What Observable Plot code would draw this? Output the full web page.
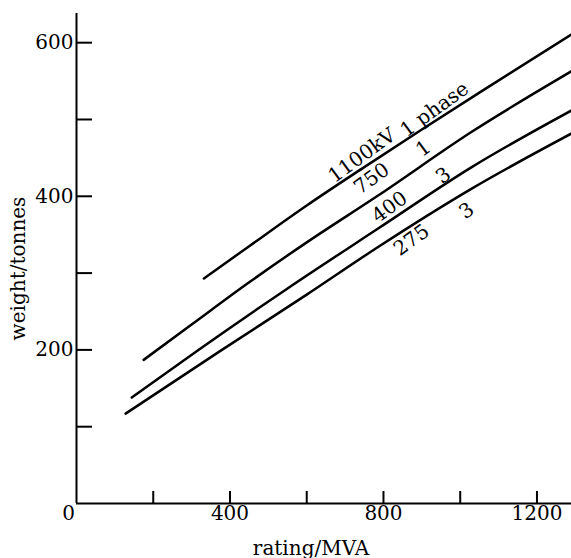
<!DOCTYPE html>
<html>
<head>
<meta charset="utf-8">
<script src="https://cdn.jsdelivr.net/npm/d3@7"></script>
<script src="https://cdn.jsdelivr.net/npm/@observablehq/plot@0.6"></script>
<style>
  html, body { margin: 0; padding: 0; background: #fff; }
  svg text { font-family: "DejaVu Serif", "Liberation Serif", serif !important; }
</style>
</head>
<body>
<div id="chart"></div>
<script>
// Curves: rating (MVA) vs weight (tonnes)
const seriesNames = ["1100kV 1 phase", "750kV 1 phase", "400kV 3 phase", "275kV 3 phase"];
const rating1100 = [332, 450, 600, 750, 900, 1050, 1294];
const weight1100 = [293, 335, 388, 438, 487, 535, 612];
const rating750 = [175, 300, 450, 600, 786, 1030, 1294];
const weight750 = [187, 233, 288, 340, 401, 484, 564];
const rating400 = [144, 315, 550, 786, 1030, 1291];
const weight400 = [138, 199, 280, 358, 438, 512];
const rating275 = [128, 376, 600, 786, 1030, 1291];
const weight275 = [117, 199, 272, 334, 410, 482];

// Annotations along the curves (data coordinates)
const labelText = ["1100kV", "1 phase", "750", "1", "400", "3", "275", "3"];
const labelRating = [744, 933, 769, 904, 816, 956, 873, 1017];
const labelWeight = [453, 513, 423, 462, 386, 427, 343, 381];

// Axes
const xTicks = [200, 400, 600, 800, 1000, 1200];
const xTickLabels = [400, 800, 1200];
const yTicks = [100, 200, 300, 400, 500, 600];
const yTickLabels = [200, 400, 600];
const xTitle = "rating/MVA";
const yTitle = "weight/tonnes";
const originLabel = ["0"];

const curves = [
  [rating1100, weight1100], [rating750, weight750],
  [rating400, weight400], [rating275, weight275]
].flatMap(([xs, ys], i) => xs.map((x, j) => ({series: seriesNames[i], rating: x, weight: ys[j]})));

const labels = labelText.map((t, i) => ({text: t, rating: labelRating[i], weight: labelWeight[i]}));

const font = "'DejaVu Serif', 'Liberation Serif', serif";

const chart = Plot.plot({
  width: 571,
  height: 558,
  marginLeft: 76,
  marginRight: 0,
  marginTop: 13,
  marginBottom: 55,
  style: {fontFamily: font, fontSize: "20px", color: "#000", background: "#fff"},
  x: {domain: [0, 1290]},
  y: {domain: [0, 638]},
  marks: [
    Plot.ruleX([0], {stroke: "#000", strokeWidth: 2}),
    Plot.ruleY([0], {stroke: "#000", strokeWidth: 2}),
    Plot.axisX({ticks: xTicks, tickSize: -12, tickFormat: () => "", label: null, strokeWidth: 2}),
    Plot.axisY({ticks: yTicks, tickSize: -16, tickFormat: () => "", label: null, strokeWidth: 2}),
    Plot.axisX({ticks: xTickLabels, tickSize: 0, tickPadding: 2, tickFormat: d => String(d), label: null, fontSize: 20}),
    Plot.axisY({ticks: yTickLabels, tickSize: 0, tickPadding: 3, tickFormat: d => String(d), label: null, fontSize: 20}),
    Plot.text(originLabel, {x: 0, y: 0, dx: -8, dy: 2, lineAnchor: "top", fontSize: 20}),
    Plot.text([xTitle], {frameAnchor: "bottom", textAnchor: "middle", dx: -13, dy: 51, lineAnchor: "bottom", fontSize: 20}),
    Plot.text([yTitle], {frameAnchor: "left", textAnchor: "middle", dx: -58, dy: 10, rotate: -90, fontSize: 20}),
    Plot.line(curves, {x: "rating", y: "weight", z: "series", stroke: "#000", strokeWidth: 2.5, curve: "monotone-x"}),
    Plot.text(labels, {x: "rating", y: "weight", text: "text", rotate: -36, fontSize: 20})
  ]
});

document.getElementById("chart").appendChild(chart);
</script>
</body>
</html>
